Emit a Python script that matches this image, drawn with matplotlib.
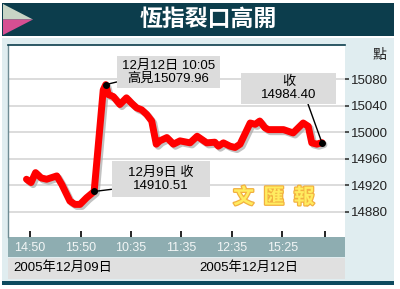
import matplotlib
matplotlib.use("Agg")
import matplotlib.pyplot as plt
import matplotlib.patheffects as pe
from matplotlib.patches import Rectangle, Polygon
from matplotlib.path import Path

# --------------------------------------------------------------------------
# DATA (x in tick units: 0 = 14:50, 1 = 15:50, 2 = 10:35 ...)
# --------------------------------------------------------------------------
x_pos = [-0.07, 0.02, 0.11, 0.22, 0.33, 0.53, 0.63, 0.79, 0.89, 0.99, 1.12, 1.27,
         1.45, 1.50, 1.55, 1.65, 1.78, 1.91, 2.01, 2.11, 2.21, 2.31, 2.41, 2.50,
         2.57, 2.71, 2.84, 2.97, 3.17, 3.31, 3.50, 3.66, 3.73, 3.83, 3.96, 4.06,
         4.16, 4.36, 4.46, 4.55, 4.65, 4.72, 5.02, 5.21, 5.41, 5.51, 5.58, 5.68, 5.78]
hsi = [14929, 14924, 14939, 14931, 14929, 14934, 14921, 14896, 14891, 14891, 14901, 14910.51,
       15064, 15072, 15057, 15054, 15042, 15052, 15044, 15037, 15034, 15027, 15017, 14982,
       14987, 14992, 14982, 14987, 14984, 14994, 14984, 14985, 14979, 14984, 14979, 14977,
       14982, 15014, 15012, 15017, 15007, 15004, 15004, 14999, 15014, 15009, 14984, 14982, 14984.40]

tick_pos = [0, 1, 2, 3, 4, 5, 5.84]
tick_labels = ['14:50', '15:50', '10:35', '11:35', '12:35', '15:25', '']
y_ticks = [14880, 14920, 14960, 15000, 15040, 15080]
dates = ['2005年12月09日', '2005年12月12日']
high_value = 15079.96

i_close9 = 11   # 12月9日 收
i_high = 13     # 高見
i_close12 = len(hsi) - 1

W, H = 400, 289
cjk = ['Liberation Sans', 'Noto Sans CJK TC']


def fx(px):
    return px / W


def fy(py):
    return 1 - py / H


def fig_rect(fig, x0, y0, x1, y1, color, z=0):
    fig.add_artist(Rectangle((fx(x0), fy(y1)), fx(x1) - fx(x0), fy(y0) - fy(y1),
                             transform=fig.transFigure, facecolor=color,
                             edgecolor='none', zorder=z))


def pad_box(padx, pady):
    """Rectangle boxstyle with separate horizontal / vertical padding."""
    def style(x0, y0, width, height, mutation_size):
        dx, dy = padx * mutation_size, pady * mutation_size
        x1, y1 = x0 + width + dx, y0 + height + dy
        x0, y0 = x0 - dx, y0 - dy
        return Path([(x0, y0), (x1, y0), (x1, y1), (x0, y1), (x0, y0)], closed=True)
    return style


fig = plt.figure(figsize=(W / 100, H / 100), dpi=100)
fig.patch.set_facecolor('white')

# outer panel, title bar, bands
fig_rect(fig, 2, 38, 394, 283, '#e0edf0')
fig_rect(fig, 2, 3, 394, 36, '#0c3d4c')
fig_rect(fig, 8, 237, 345, 257, '#8eadb1')
fig_rect(fig, 8, 258, 345, 279, '#e0e0e0')
fig_rect(fig, 2, 281, 394, 285, '#0c4a5e')

# title triangle
fig.add_artist(Polygon([(fx(3), fy(4)), (fx(33), fy(19.5)), (fx(3), fy(19.5))],
                       closed=True, transform=fig.transFigure,
                       facecolor='#c8d5c6', edgecolor='none', zorder=1))
fig.add_artist(Polygon([(fx(3), fy(19.5)), (fx(33), fy(19.5)), (fx(3), fy(35))],
                       closed=True, transform=fig.transFigure,
                       facecolor='#d64f92', edgecolor='none', zorder=1))

fig.text(fx(208), fy(19), '恆指裂口高開', color='white', fontsize=16.5,
         fontweight='bold', family='Noto Sans CJK TC', ha='center', va='center')

# --------------------------------------------------------------------------
# MAIN AXES
# --------------------------------------------------------------------------
ax = fig.add_axes([fx(8), fy(237), fx(345) - fx(8), fy(45) - fy(237)])
ax.set_facecolor('white')
ax.set_xlim(-0.436, 6.238)
ax.set_ylim(14841.7, 15131.9)

for s in ['right', 'bottom']:
    ax.spines[s].set_visible(False)
ax.spines['top'].set_color('#0c3d4c')
ax.spines['left'].set_color('#6f8c94')
ax.spines['top'].set_linewidth(1.2)
ax.spines['left'].set_linewidth(1.0)

ax.set_yticks(y_ticks)
ax.yaxis.tick_right()
ax.tick_params(axis='y', direction='out', length=3, width=1.2, color='#333333',
               labelsize=9.5, labelcolor='#222222', pad=1.5)
for lab in ax.get_yticklabels():
    lab.set_family('Liberation Sans')
ax.yaxis.grid(True, color='#d6d6d6', linewidth=1.2)
ax.set_axisbelow(True)

ax.set_xticks(tick_pos)
ax.set_xticklabels(tick_labels)
ax.tick_params(axis='x', direction='in', length=4, width=1.2, color='black',
               labelsize=9, labelcolor='#f2f6f6', pad=3.5)
for lab in ax.get_xticklabels():
    lab.set_family('Liberation Sans')

ax.plot(x_pos, hsi, color='#ff0000', linewidth=5, solid_joinstyle='round',
        solid_capstyle='round', zorder=3,
        path_effects=[pe.SimpleLineShadow(offset=(1.5, -1.5), shadow_color='#a8a8a8', alpha=0.7),
                      pe.Normal()])

for i in [i_close9, i_high, i_close12]:
    ax.plot(x_pos[i], hsi[i], 'o', color='black', markersize=4, zorder=5)

leader = dict(arrowstyle='-', color='black', lw=1, shrinkA=0, shrinkB=0)
ax.annotate('12月12日 10:05\n高見%.2f' % high_value, xy=(x_pos[i_high], hsi[i_high]),
            xytext=(45, 9), textcoords='offset points', ha='center', va='center',
            fontsize=9.5, family=cjk, linespacing=1.05, zorder=4,
            bbox=dict(boxstyle=pad_box(0.38, 0.27), facecolor='#dcdcdc', edgecolor='none'),
            arrowprops=dict(leader, relpos=(0, 0.15)))
ax.annotate('12月9日 收\n%.2f' % hsi[i_close9], xy=(x_pos[i_close9], hsi[i_close9]),
            xytext=(48, 9), textcoords='offset points', ha='center', va='center',
            fontsize=9.5, family=cjk, linespacing=1.1, zorder=4,
            bbox=dict(boxstyle=pad_box(1.25, 0.42), facecolor='#dcdcdc', edgecolor='none'),
            arrowprops=dict(leader, relpos=(0, 0.17)))
ax.annotate('收\n%.2f' % hsi[i_close12], xy=(x_pos[i_close12], hsi[i_close12]),
            xytext=(-24, 39), textcoords='offset points', ha='center', va='center',
            fontsize=9.5, family=cjk, linespacing=1.05, zorder=4,
            bbox=dict(boxstyle=pad_box(1.5, 0.27), facecolor='#dcdcdc', edgecolor='none'),
            arrowprops=dict(leader, relpos=(0.83, 0)))

# watermark
fig.text(fx(274), fy(197), '文  匯  報', color='#ffec60', fontsize=15, fontweight='bold',
         family='Noto Sans CJK TC', ha='center', va='center', zorder=10,
         path_effects=[pe.withStroke(linewidth=1.8, foreground='#f2b040')])

# unit + dates
fig.text(fx(379), fy(55), '點', fontsize=10, family='Noto Sans CJK TC',
         color='#222222', ha='center', va='center')
fig.text(fx(13), fy(268), dates[0], fontsize=9.5, family=cjk, color='black',
         ha='left', va='center')
fig.text(fx(199), fy(268), dates[1], fontsize=9.5, family=cjk, color='black',
         ha='left', va='center')

fig.savefig('out.png', dpi=100)
